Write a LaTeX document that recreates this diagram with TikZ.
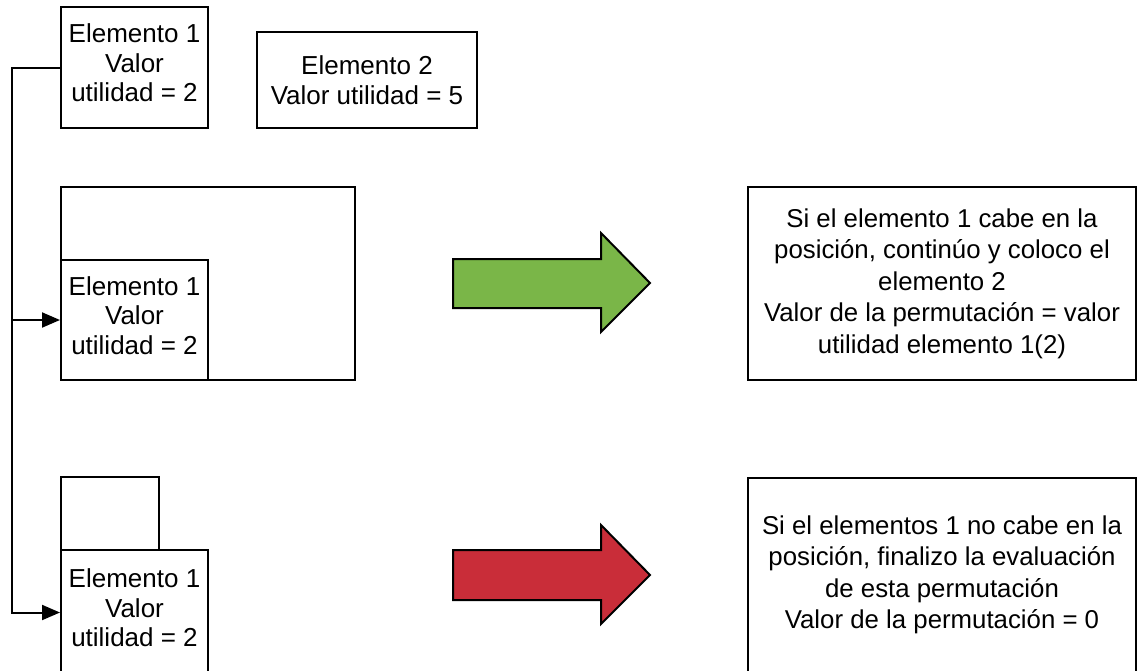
\documentclass[tikz,border=0pt]{standalone}
\usepackage{fontspec}
\setmainfont{Liberation Sans}
\usetikzlibrary{arrows.meta}
\definecolor{lgreen}{HTML}{7AB648}
\definecolor{lred}{HTML}{C92D39}
\begin{document}
\begin{tikzpicture}[x=1pt,y=-1pt,
  box/.style={draw=black,line width=2pt,fill=white,rectangle,inner sep=0pt,align=center,font=\fontsize{26}{29.5}\selectfont},
  elbox/.style={box,minimum width=147pt,text depth=9pt},
  rbox/.style={box,font=\fontsize{25.8}{31.5}\selectfont},
  conn/.style={draw=black,line width=2pt,line join=miter},
  tipend/.style={-{Triangle[length=18pt,width=15pt]}},
  blockarrow/.style={draw=black,line width=2pt,line join=miter}]
\useasboundingbox (0,0) rectangle (1137,670);
\clip (0,0) rectangle (1137,670);
% top elements
\node[elbox,minimum height=121pt] (A) at (134.5,67.5) {Elemento 1\\Valor\\utilidad = 2};
\node[box,minimum width=220pt,minimum height=96pt] (B) at (367,80) {Elemento 2\\Valor utilidad = 5};
% first case
\node[box,minimum width=294pt,minimum height=193pt] (K1) at (208,283.5) {};
\node[elbox,minimum height=120pt] (C) at (134.5,320) {Elemento 1\\Valor\\utilidad = 2};
% second case
\node[box,minimum width=98pt,minimum height=73pt] (D) at (110,513.5) {};
\node[elbox,minimum height=125pt] (E) at (134.5,612.5) {Elemento 1\\Valor\\utilidad = 2};
% block arrows
\draw[blockarrow,fill=lgreen] (453,259) -- (601,259) -- (601,233) -- (650,283) -- (601,332) -- (601,308) -- (453,308) -- cycle;
\draw[blockarrow,fill=lred] (453,550) -- (601,550) -- (601,525) -- (650,575) -- (601,624) -- (601,600) -- (453,600) -- cycle;
% result boxes
\node[rbox,minimum width=388pt,minimum height=193pt] (R1) at (942,283.5) {Si el elemento 1 cabe en la\\posición, continúo y coloco el\\elemento 2\\Valor de la permutación = valor\\utilidad elemento 1(2)};
\node[rbox,minimum width=388pt,minimum height=194pt] (R2) at (942,575) {Si el elementos 1 no cabe en la\\posición, finalizo la evaluación\\de esta permutación\\Valor de la permutación = 0};
% connectors
\coordinate (j) at (12,0);
\draw[conn,tipend] (A.west) -- (A.west -| j) -- (E.west -| j) -- (E.west);
\draw[conn,tipend] (C.west -| j) -- (C.west);
\end{tikzpicture}
\end{document}
